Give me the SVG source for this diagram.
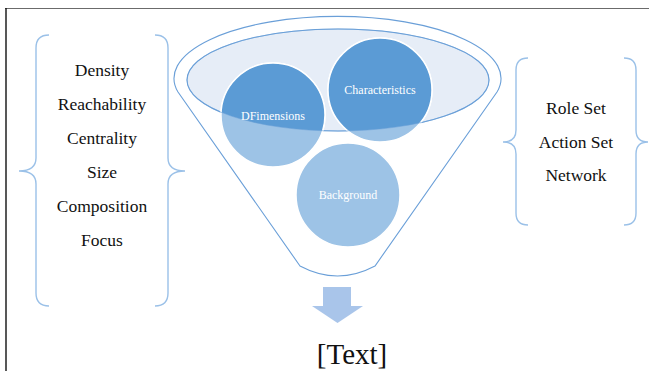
<svg xmlns="http://www.w3.org/2000/svg" width="649" height="371" viewBox="0 0 649 371">
<style>
.brace{fill:none;stroke:#9BC1E8;stroke-width:1.4}
.lbl{font-family:"Liberation Serif","Times New Roman",serif;font-size:17.5px;fill:#111;text-anchor:middle}
.ctxt{font-family:"Liberation Serif","Times New Roman",serif;font-size:12px;fill:#fff;text-anchor:middle}
.light{fill:#9DC3E6;stroke:#fff;stroke-width:1.5}
.dark{fill:#5B9BD5;stroke:#fff;stroke-width:1.5}
</style>
<defs>
<clipPath id="ec"><ellipse cx="338" cy="80" rx="151" ry="51"/></clipPath>
</defs>
<rect width="649" height="371" fill="#fff"/>
<line x1="5" y1="8.5" x2="649" y2="8.5" stroke="#6b6b6b" stroke-width="1.2"/>
<line x1="6" y1="8" x2="6" y2="371" stroke="#111" stroke-width="1.4"/>
<g id="left-list">
<path class="brace" d="M49,35 Q36,35 36,48 L36,158 Q36,171 19,171 Q36,171 36,184 L36,293 Q36,306 49,306"/>
<path class="brace" d="M155,35 Q168,35 168,48 L168,158 Q168,171 185,171 Q168,171 168,184 L168,293 Q168,306 155,306"/>
<text class="lbl" x="102" y="76">Density</text>
<text class="lbl" x="102" y="110">Reachability</text>
<text class="lbl" x="102" y="144">Centrality</text>
<text class="lbl" x="102" y="178">Size</text>
<text class="lbl" x="102" y="212">Composition</text>
<text class="lbl" x="102" y="246">Focus</text>
</g>
<g id="right-list">
<path class="brace" d="M528,58 Q516,58 516,70 L516,130 Q516,142 503,142 Q516,142 516,154 L516,213 Q516,225 528,225"/>
<path class="brace" d="M624,58 Q636,58 636,70 L636,130 Q636,142 648,142 Q636,142 636,154 L636,213 Q636,225 624,225"/>
<text class="lbl" x="576" y="114">Role Set</text>
<text class="lbl" x="576" y="148">Action Set</text>
<text class="lbl" x="576" y="181">Network</text>
</g>
<g id="funnel">
<path d="M300,266 L178,92 A163.5,62 0 1 1 497,92 L375,266 Q337.5,286 300,266 Z" fill="#fff" stroke="#6A9FD8" stroke-width="1.1"/>
<ellipse cx="338" cy="80" rx="151" ry="51" fill="#E6EDF7" stroke="#6A9FD8" stroke-width="1.1"/>
</g>
<g id="circles">
<circle class="light" cx="273" cy="115" r="52"/>
<circle class="light" cx="380" cy="90" r="52"/>
<circle class="light" cx="348" cy="195" r="52"/>
<g clip-path="url(#ec)">
<circle class="dark" cx="273" cy="115" r="52"/>
<circle class="dark" cx="380" cy="90" r="52"/>
</g>
<ellipse cx="338" cy="80" rx="151" ry="51" fill="none" stroke="#6A9FD8" stroke-width="1" stroke-opacity="0.5"/>
</g>
<g id="node-dimensions"><text class="ctxt" x="273" y="120">DFimensions</text></g>
<g id="node-characteristics"><text class="ctxt" x="380" y="94">Characteristics</text></g>
<g id="node-background"><text class="ctxt" x="348" y="199">Background</text></g>
<g id="connectors">
<polygon points="323,287 351,287 351,306 363,306 337.5,323 312,306 323,306" fill="#A9C5EA"/>
</g>
<g id="output">
<text x="352" y="364" font-family="'Liberation Serif','Times New Roman',serif" font-size="29" fill="#111" text-anchor="middle">[Text]</text>
</g>
</svg>
